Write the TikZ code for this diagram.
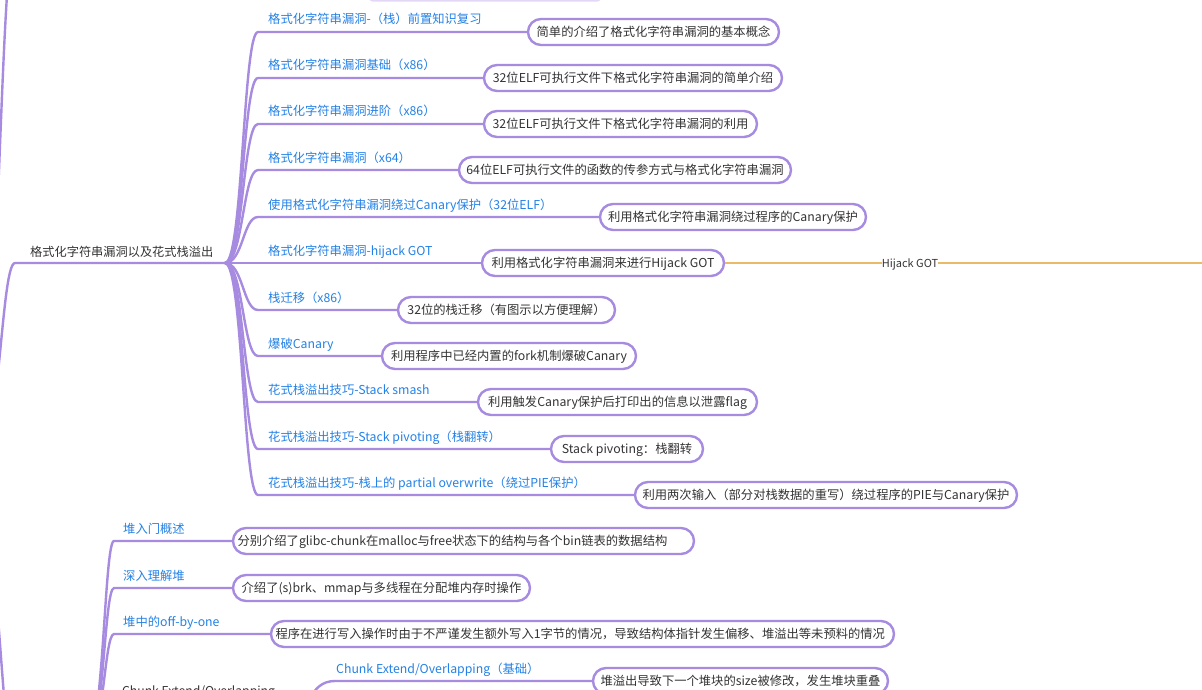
\documentclass[tikz,border=0pt]{standalone}
\usepackage{fontspec}
\setmainfont{Noto Sans CJK SC}
\definecolor{brc}{HTML}{A68BE0}
\definecolor{lblc}{HTML}{2381E6}
\definecolor{txtc}{HTML}{333333}
\definecolor{goldc}{HTML}{E9BA6A}
\definecolor{faintc}{HTML}{E2D8F6}
\begin{document}
\begin{tikzpicture}[x=1pt,y=-1pt,
  branch/.style={draw=brc, line width=2.4pt, line cap=round},
  lab/.style={anchor=base west, text=lblc, font=\fontsize{12.3}{14}\selectfont, inner sep=0pt},
  plain/.style={anchor=base west, text=txtc, font=\fontsize{12.2}{14}\selectfont, inner sep=0pt},
  desc/.style={draw=brc, line width=2.4pt, rounded corners=13pt, minimum height=26pt, fill=white,
    text=txtc, font=\fontsize{12.3}{14}\selectfont, inner xsep=3pt, inner ysep=0pt,
    text height=11pt, text depth=2pt},
  goldline/.style={draw=goldc, line width=1.5pt}
  ]
\useasboundingbox (0,0) rectangle (1202,690);
\clip (0,0) rectangle (1202,690);

% faint edge of a node above the picture
\draw[faintc, line width=1.5pt, rounded corners=6pt] (368,-30) rectangle (602,1);

% left trunk
\coordinate (trunk) at (-30,480);
\coordinate (rootW) at (15,263);
\coordinate (rootE) at (225,263);
\coordinate (upEnd) at (15,-60);
\coordinate (downEnd) at (15,760);
\draw[branch] (trunk) .. controls (0,480) and (0,263) .. (rootW) -- (rootE);
\draw[branch] (trunk) .. controls (-1,480) and (-1,-60) .. (upEnd);
\draw[branch] (trunk) .. controls (0,480) and (0,760) .. (downEnd);
\node[plain] (root) at (30,256) {格式化字符串漏洞以及花式栈溢出};

% children of the format string group
\node[lab] (l1) at (268,24) {格式化字符串漏洞-（栈）前置知识复习};
\node[desc, minimum width=251pt] (d1) at (653.5,32) {简单的介绍了格式化字符串漏洞的基本概念};
\node[lab] (l2) at (268,70) {格式化字符串漏洞基础（x86）};
\node[desc, minimum width=298pt] (d2) at (633,78) {32位ELF可执行文件下格式化字符串漏洞的简单介绍};
\node[lab] (l3) at (268,116) {格式化字符串漏洞进阶（x86）};
\node[desc, minimum width=273pt] (d3) at (620.5,124) {32位ELF可执行文件下格式化字符串漏洞的利用};
\node[lab] (l4) at (268,162) {格式化字符串漏洞（x64）};
\node[desc, minimum width=332pt] (d4) at (625,170) {64位ELF可执行文件的函数的传参方式与格式化字符串漏洞};
\node[lab] (l5) at (268,209) {使用格式化字符串漏洞绕过Canary保护（32位ELF）};
\node[desc, minimum width=266pt] (d5) at (733,217) {利用格式化字符串漏洞绕过程序的Canary保护};
\node[lab] (l6) at (268,255) {格式化字符串漏洞-hijack GOT};
\node[desc, minimum width=242pt] (d6) at (603,263) {利用格式化字符串漏洞来进行Hijack GOT};
\node[lab] (l7) at (268,302) {栈迁移（x86）};
\node[desc, minimum width=217pt] (d7) at (506.5,310) {32位的栈迁移（有图示以方便理解）};
\node[lab] (l8) at (268,348) {爆破Canary};
\node[desc, minimum width=254pt] (d8) at (509,356) {利用程序中已经内置的fork机制爆破Canary};
\node[lab] (l9) at (268,394) {花式栈溢出技巧-Stack smash};
\node[desc, minimum width=279pt] (d9) at (617.5,402) {利用触发Canary保护后打印出的信息以泄露flag};
\node[lab] (l10) at (268,441) {花式栈溢出技巧-Stack pivoting（栈翻转）};
\node[desc, minimum width=152pt] (d10) at (627,449) {Stack pivoting：栈翻转};
\node[lab] (l11) at (268,487) {花式栈溢出技巧-栈上的 partial overwrite（绕过PIE保护）};
\node[desc, minimum width=382pt] (d11) at (826,495) {利用两次输入（部分对栈数据的重写）绕过程序的PIE与Canary保护};

\draw[branch] (rootE) .. controls (243,263) and (243,32) .. (258,32) -- (d1.west);
\draw[branch] (rootE) .. controls (243,263) and (243,78) .. (258,78) -- (d2.west);
\draw[branch] (rootE) .. controls (243,263) and (243,124) .. (258,124) -- (d3.west);
\draw[branch] (rootE) .. controls (243,263) and (243,170) .. (258,170) -- (d4.west);
\draw[branch] (rootE) .. controls (243,263) and (243,217) .. (258,217) -- (d5.west);
\draw[branch] (rootE) -- (d6.west);
\draw[branch] (rootE) .. controls (243,263) and (243,310) .. (258,310) -- (d7.west);
\draw[branch] (rootE) .. controls (243,263) and (243,356) .. (258,356) -- (d8.west);
\draw[branch] (rootE) .. controls (243,263) and (243,402) .. (258,402) -- (d9.west);
\draw[branch] (rootE) .. controls (243,263) and (243,449) .. (258,449) -- (d10.west);
\draw[branch] (rootE) .. controls (243,263) and (243,495) .. (258,495) -- (d11.west);

% Hijack GOT relation
\node[text=txtc, font=\fontsize{11}{13}\selectfont, inner sep=0pt] (hj) at (910,264) {Hijack GOT};
\coordinate (hjEnd) at (1210,263);
\draw[goldline] (d6.east) -- (hj.west |- d6.east);
\draw[goldline] (hj.east |- d6.east) -- (hjEnd);

% heap group
\coordinate (heap) at (85,745);
\node[lab] (h1l) at (123,533) {堆入门概述};
\node[desc, minimum width=461pt] (h1) at (463.5,541) {\makebox[452pt][l]{分别介绍了glibc-chunk在malloc与free状态下的结构与各个bin链表的数据结构}};
\node[lab] (h2l) at (123,580) {深入理解堆};
\node[desc, minimum width=297pt] (h2) at (381.5,588) {介绍了(s)brk、mmap与多线程在分配堆内存时操作};
\node[lab] (h3l) at (123,626) {堆中的off-by-one};
\node[desc, minimum width=623pt] (h3) at (582.5,634) {\makebox[614pt][l]{程序在进行写入操作时由于不严谨发生额外写入1字节的情况，导致结构体指针发生偏移、堆溢出等未预料的情况}};
\node[plain] (ce) at (122,695) {Chunk Extend/Overlapping};
\coordinate (ceE) at (298,712);
\node[lab] (h4l) at (336,673) {Chunk Extend/Overlapping（基础）};
\node[desc, minimum width=295pt] (h4) at (740.5,681) {堆溢出导致下一个堆块的size被修改，发生堆块重叠};

\draw[branch] (heap) .. controls (104,745) and (104,541) .. (114,541) -- (h1.west);
\draw[branch] (heap) .. controls (104,745) and (104,588) .. (114,588) -- (h2.west);
\draw[branch] (heap) .. controls (104,745) and (104,634) .. (114,634) -- (h3.west);
\draw[branch] (heap) .. controls (104,745) and (104,712) .. (114,712) -- (ceE);
\draw[branch] (ceE) .. controls (309,712) and (309,681) .. (335,681) -- (h4.west);
\end{tikzpicture}
\end{document}
